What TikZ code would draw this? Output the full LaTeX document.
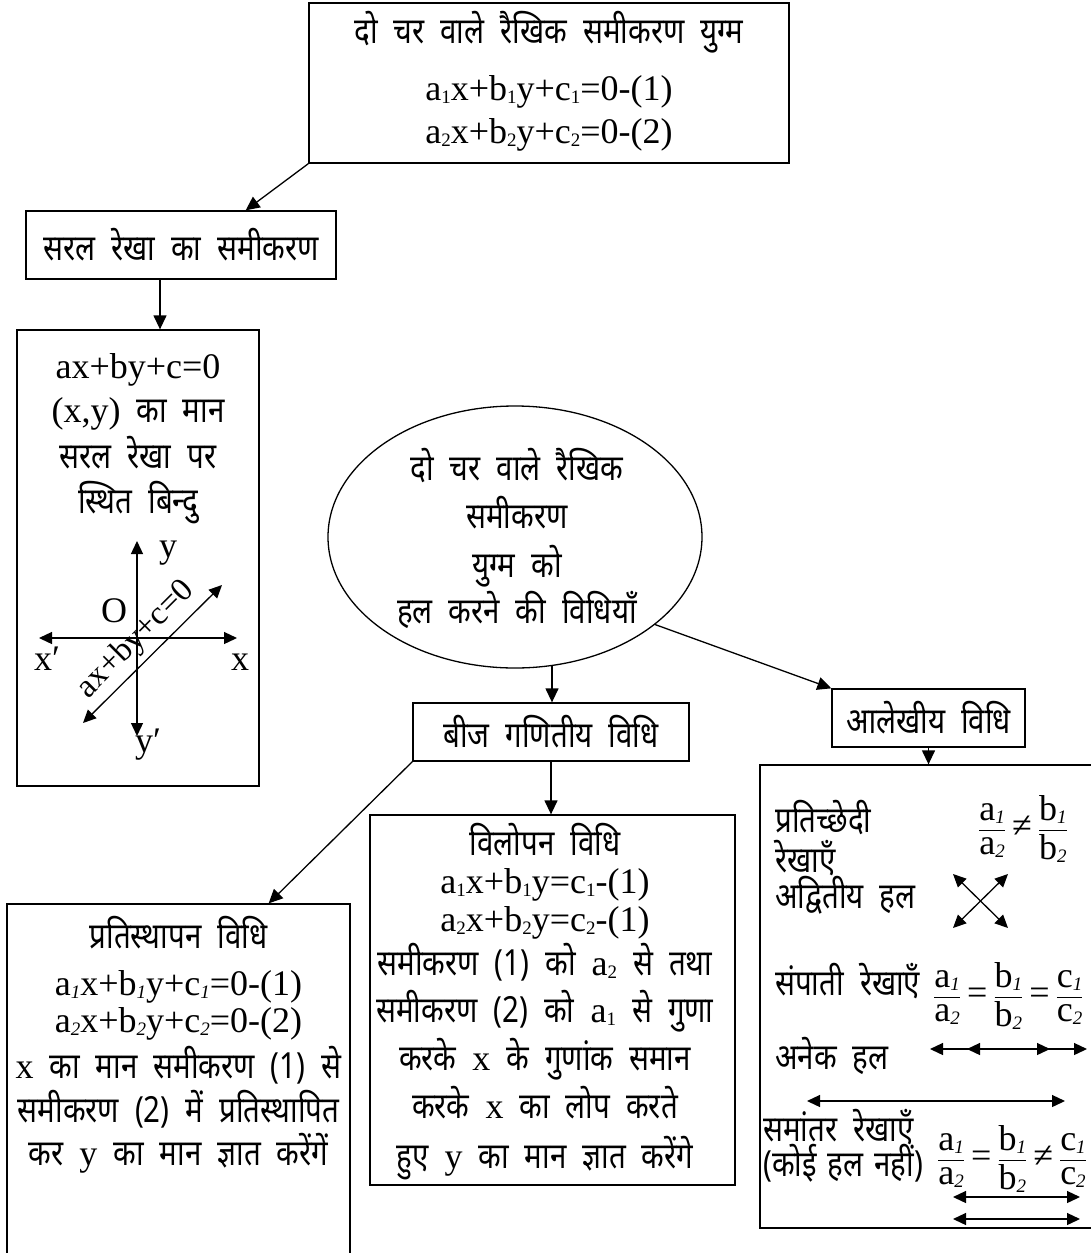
\documentclass[tikz,border=0pt]{standalone}
\usepackage{amsmath}
\usepackage{fontspec}
\setmainfont{Noto Sans}[Script=Devanagari,FakeStretch=0.82]
\newfontfamily\lat{Liberation Serif}
\usetikzlibrary{arrows.meta,positioning,shapes.geometric}
\newcommand{\dvfont}{\fontsize{36}{40}\selectfont\spaceskip=16pt plus 2pt minus 2pt}
\newcommand{\ltfont}{\lat\fontsize{36}{43}\selectfont}
\newcommand{\sub}[1]{\raisebox{-0.2ex}{\fontsize{19}{19}\selectfont #1}}
\newcommand{\isub}[1]{\raisebox{-0.2ex}{\fontsize{19}{19}\selectfont\itshape #1}}
\newcommand{\fr}[2]{$\dfrac{\mbox{#1}}{\mbox{#2}}$}
\tikzset{
  box/.style={draw, line width=1.3pt, inner sep=0pt},
  arr/.style={-{Triangle[length=14pt,width=13pt]}, line width=1.3pt},
  dbl/.style={{Triangle[length=13pt,width=12pt]}-{Triangle[length=13pt,width=12pt]}, line width=1.3pt},
  dv/.style={anchor=base, inner sep=0pt, font=\dvfont},
  lt/.style={anchor=base, inner sep=0pt, font=\ltfont},
}
\begin{document}
\begin{tikzpicture}[x=1pt,y=-1pt]
\useasboundingbox (0,0) rectangle (1091,1253);

% boxes
\node[box, minimum width=480pt, minimum height=160pt] (pair) at (549,83) {};
\node[box, minimum width=310pt, minimum height=68pt, font=\dvfont] (line) at (181,245) {सरल रेखा का समीकरण};
\node[box, minimum width=242pt, minimum height=456pt] (lineq) at (138,558) {};
\node[draw, ellipse, line width=1.3pt, minimum width=374pt, minimum height=262pt] (methods) at (515,537) {};
\node[box, minimum width=276pt, minimum height=58pt, font=\dvfont] (alg) at (551,732) {बीज गणितीय विधि};
\node[box, minimum width=193pt, minimum height=58pt, font=\dvfont] (graph) at (928.5,718) {आलेखीय विधि};
\node[box, minimum width=343pt, minimum height=380pt] (subst) at (178.5,1094) {};
\node[box, minimum width=365pt, minimum height=370pt] (elim) at (552.5,1000) {};
\node[box, minimum width=360pt, minimum height=463pt] (gbox) at (940,996.5) {};

% pair of equations
\node[dv] (pair1) at (549,43) {दो चर वाले रैखिक समीकरण युग्म};
\node[lt] (pair2) at (549,100) {a\sub1x+b\sub1y+c\sub1=0-(1)};
\node[lt] (pair3) at (549,143) {a\sub2x+b\sub2y+c\sub2=0-(2)};

% straight line
\node[lt] (lin1) at (138,378) {ax+by+c=0};
\node[dv] (lin2) at (138,422) {{\ltfont (x,y)} का मान};
\node[dv] (lin3) at (138,468) {सरल रेखा पर};
\node[dv] (lin4) at (138,513) {स्थित बिन्दु};
\draw[dbl] (137,541) -- (137,736);
\draw[dbl] (39,638) -- (237,638);
\draw[dbl] (83,723) -- (222,585);
\node[lt] (ly) at (168,557) {y};
\node[lt] (lo) at (114,622) {O};
\node[lt] (lxm) at (47,670) {x′};
\node[lt] (lx) at (240,670) {x};
\node[lt] (lym) at (148,752) {y′};
\node[inner sep=0pt, rotate=45, font=\lat\fontsize{33}{40}\selectfont] (leq) at (136,640) {ax+by+c=0};

% methods
\node[dv] (m1) at (517,480) {दो चर वाले रैखिक};
\node[dv] (m2) at (517,528) {समीकरण};
\node[dv] (m3) at (517,577) {युग्म को};
\node[dv] (m4) at (517,623) {हल करने की विधियाँ};

% substitution
\node[dv] (s1) at (178.5,948) {\bfseries प्रतिस्थापन विधि};
\node[lt] (s2) at (178.5,995) {a\isub1x+b\isub1y+c\isub1=0-(1)};
\node[lt] (s3) at (178.5,1032) {a\isub2x+b\isub2y+c\isub2=0-(2)};
\node[dv] (s4) at (178.5,1078) {{\ltfont x} का मान समीकरण (1) से};
\node[dv] (s5) at (178.5,1122) {समीकरण (2) में प्रतिस्थापित};
\node[dv] (s6) at (178.5,1165) {कर {\ltfont y} का मान ज्ञात करेंगें};

% elimination
\node[dv] (e1) at (545,855) {\bfseries विलोपन विधि};
\node[lt] (e2) at (545,893) {a\sub1x+b\sub1y=c\sub1-(1)};
\node[lt] (e3) at (545,931) {a\sub2x+b\sub2y=c\sub2-(1)};
\node[dv] (e4) at (545,975) {समीकरण (1) को {\ltfont a\sub2} से तथा};
\node[dv] (e5) at (545,1022) {समीकरण (2) को {\ltfont a\sub1} से गुणा};
\node[dv] (e6) at (545,1070) {करके {\ltfont x} के गुणांक समान};
\node[dv] (e7) at (545,1118) {करके {\ltfont x} का लोप करते};
\node[dv] (e8) at (545,1168) {हुए {\ltfont y} का मान ज्ञात करेंगे};

% graphical
\node[dv, anchor=base west] (g1) at (775,832) {प्रतिच्छेदी};
\node[dv, anchor=base west] (g2) at (775,872) {रेखाएँ};
\node[dv, anchor=base west] (g3) at (775,908) {अद्वितीय हल};
\node[lt, anchor=west] (f1) at (978,829) {\fr{a\isub1}{a\isub2}\,≠\,\fr{b\isub1}{b\isub2}};
\draw[dbl] (953,928) -- (1008,874);
\draw[dbl] (953,874) -- (1008,928);
\node[dv, anchor=base west] (g4) at (775,995) {संपाती रेखाएँ};
\node[lt, anchor=west] (f2) at (933,996) {\fr{a\isub1}{a\isub2}\,=\,\fr{b\isub1}{b\isub2}\,=\,\fr{c\isub1}{c\isub2}};
\draw[dbl] (930,1049) -- (1050,1049);
\draw[dbl] (967,1049) -- (1087,1049);
\node[dv, anchor=base west] (g5) at (775,1069) {अनेक हल};
\draw[dbl] (807,1101) -- (1065,1101);
\node[dv, anchor=base west] (g6) at (763,1141) {समांतर रेखाएँ};
\node[dv, anchor=base west] (g7) at (763,1176) {\spaceskip=11pt\relax(कोई हल नहीं)};
\node[lt, anchor=west] (f3) at (937,1159) {\fr{a\isub1}{a\isub2}\,=\,\fr{b\isub1}{b\isub2}\,≠\,\fr{c\isub1}{c\isub2}};
\draw[dbl] (953,1197) -- (1080,1197);
\draw[dbl] (953,1219) -- (1080,1219);

% connectors
\draw[arr] (pair.south west) -- ([xshift=-91pt]line.north east);
\draw[arr] ([xshift=-21pt]line.south) -- ([xshift=22pt]lineq.north);
\draw[arr] (methods.-74) -- (methods.-74 |- alg.north);
\draw[arr] (methods.-32) -- (graph.north west);
\draw[arr] (graph.south) -- (graph.south |- gbox.north);
\draw[arr] (alg.south west) -- ([xshift=-82pt]subst.north east);
\draw[arr] (alg.south) -- (alg.south |- elim.north);

\end{tikzpicture}
\end{document}
